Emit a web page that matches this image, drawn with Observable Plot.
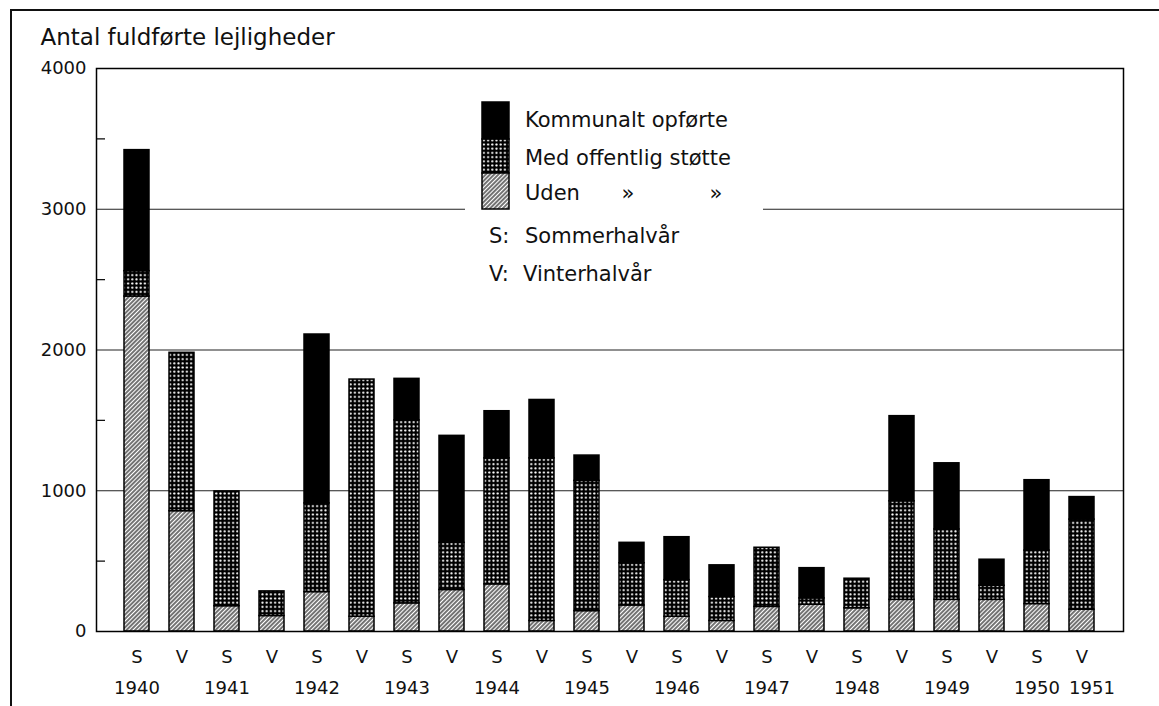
<!DOCTYPE html>
<html>
<head>
<meta charset="utf-8">
<script src="https://cdn.jsdelivr.net/npm/d3@7"></script>
<script src="https://cdn.jsdelivr.net/npm/@observablehq/plot@0.6"></script>
<style>
  body { margin: 0; background: #fff; }
  #wrap { position: relative; width: 1159px; height: 706px; overflow: hidden; font-family: "DejaVu Sans", sans-serif; }
  #border { position: absolute; left: 10px; top: 9px; width: 1200px; height: 800px; border-left: 2px solid #111; border-top: 2px solid #111; pointer-events: none; }
  #legend { position: absolute; left: 465px; top: 92px; }
</style>
</head>
<body>
<div id="wrap"><div id="chart"></div><div id="legend"></div><div id="border"></div></div>
<script>
// Halvår (S = sommer, V = vinter) for hver søjle
const halvaar = ["S","V","S","V","S","V","S","V","S","V","S","V","S","V","S","V","S","V","S","V","S","V"];
// Årstal under søjlerne
const aarstal = ["1940","","1941","","1942","","1943","","1944","","1945","","1946","","1947","","1948","","1949","","1950","1951"];
// Uden offentlig støtte
const uden      = [2380, 855, 180, 110, 280, 105, 200, 295, 335,  75, 145, 185, 105,  75, 175, 190, 165, 225, 225, 225, 195, 155];
// Med offentlig støtte
const med       = [ 180,1125, 815, 175, 630,1685,1300, 335, 895,1155, 925, 300, 260, 170, 420,  45, 210, 700, 500, 100, 380, 640];
// Kommunalt opførte
const kommunalt = [ 860,   0,   0,   0,1200,   0, 295, 760, 335, 415, 180, 145, 305, 225,   0, 215,   0, 605, 470, 185, 500, 160];
const serier = ["Uden", "Med offentlig støtte", "Kommunalt opførte"];
const yTicks = [0, 1000, 2000, 3000, 4000];
const yMinor = [500, 1500, 2500, 3500];
const gitter = [1000, 2000, 3000];

const noegler = halvaar.map((h, i) => h + i);
const rows = [];
noegler.forEach((k, i) => {
  rows.push({k, serie: serier[0], v: uden[i]});
  rows.push({k, serie: serier[1], v: med[i]});
  rows.push({k, serie: serier[2], v: kommunalt[i]});
});
const bars = rows.filter(d => d.v > 0);
const aarRows = noegler.map((k, i) => ({k, aar: aarstal[i]})).filter(d => d.aar);
const aarMain = aarRows.filter(d => d.aar !== "1951");
const aarLast = aarRows.filter(d => d.aar === "1951");

function patterns(prefix) {
  return `
  <pattern id="${prefix}hatch" patternUnits="userSpaceOnUse" width="3" height="3" patternTransform="rotate(45)">
    <rect width="3" height="3" fill="#fff"/>
    <line x1="1" y1="0" x2="1" y2="3" stroke="#000" stroke-width="1.1"/>
  </pattern>
  <pattern id="${prefix}cross" patternUnits="userSpaceOnUse" width="4.2" height="4.2">
    <rect width="4.2" height="4.2" fill="#000"/>
    <circle cx="2.1" cy="2.1" r="1.1" fill="#fff"/>
  </pattern>`;
}

const defs = () => {
  const g = document.createElementNS("http://www.w3.org/2000/svg", "defs");
  g.innerHTML = patterns("p");
  return g;
};

const font = "'DejaVu Sans', sans-serif";
const chart = Plot.plot({
  width: 1159,
  height: 706,
  marginLeft: 96,
  marginRight: 36,
  marginTop: 68,
  marginBottom: 75,
  style: {fontFamily: font, fontSize: "18px", color: "#111", background: "transparent"},
  x: {domain: noegler, paddingInner: 0.44, paddingOuter: 0.44, label: null},
  y: {domain: [0, 4000], label: null},
  color: {domain: serier, range: ["url(#phatch)", "url(#pcross)", "#000"]},
  marks: [
    defs,
    Plot.ruleY(gitter, {stroke: "#222", strokeWidth: 1.2}),
    Plot.axisY({ticks: yTicks, tickSize: 0, tickPadding: 10, fontSize: 18, tickFormat: d => String(d), label: null}),
    Plot.axisY({ticks: yMinor, tickSize: -9, tickFormat: () => "", label: null, strokeWidth: 1.3}),
    Plot.axisX({tickSize: 0, tickPadding: 19, tickFormat: d => d[0], fontSize: 18, label: null}),
    Plot.text(aarMain, {x: "k", text: "aar", frameAnchor: "bottom", lineAnchor: "top", dy: 50, fontSize: 18}),
    Plot.text(aarLast, {x: "k", text: "aar", frameAnchor: "bottom", lineAnchor: "top", dy: 50, dx: 10, fontSize: 18}),
    Plot.barY(bars, {x: "k", y: "v", fill: "serie", stroke: "#000", strokeWidth: 1.5}),
    Plot.frame({stroke: "#000", strokeWidth: 1.5}),
    Plot.text(["Antal fuldførte lejligheder"], {text: d => d, frameAnchor: "top-left", textAnchor: "start", lineAnchor: "top", dx: -56, dy: -40, fontSize: 23})
  ]
});
document.getElementById("chart").appendChild(chart);

// Legend (HTML overlay with white background)
const lf = `font-family:${font};font-size:21px;fill:#111`;
document.getElementById("legend").innerHTML = `
<svg width="298" height="198" xmlns="http://www.w3.org/2000/svg">
  <defs>${patterns("l")}</defs>
  <rect width="298" height="198" fill="#fff"/>
  <rect x="17" y="10" width="27" height="37" fill="#000" stroke="#000" stroke-width="1.5"/>
  <rect x="17" y="47" width="27" height="34" fill="url(#lcross)" stroke="#000" stroke-width="1.5"/>
  <rect x="17" y="81" width="27" height="36" fill="url(#lhatch)" stroke="#000" stroke-width="1.5"/>
  <text x="60" y="35" style="${lf}">Kommunalt opførte</text>
  <text x="60" y="73" style="${lf}">Med offentlig støtte</text>
  <text x="60" y="108" style="${lf}">Uden</text>
  <text x="163" y="108" text-anchor="middle" style="${lf}">»</text>
  <text x="251" y="108" text-anchor="middle" style="${lf}">»</text>
  <text x="24" y="151" style="${lf}">S:</text>
  <text x="60" y="151" style="${lf}">Sommerhalvår</text>
  <text x="24" y="189" style="${lf}">V:</text>
  <text x="58" y="189" style="${lf}">Vinterhalvår</text>
</svg>`;
</script>
</body>
</html>
